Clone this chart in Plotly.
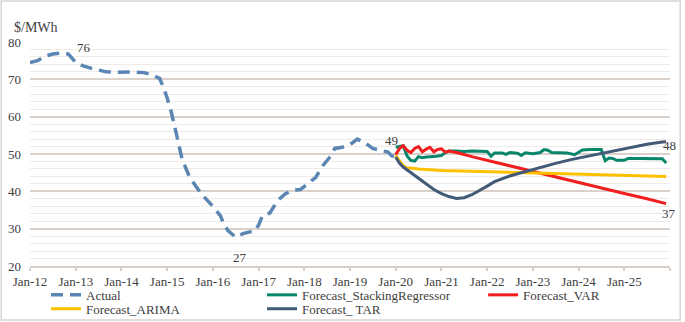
import plotly.graph_objects as go

# ---------------- data ----------------
actual_dates = ["2012-01", "2012-03", "2012-05", "2012-07", "2012-09", "2012-11",
                "2013-01", "2013-03", "2013-05", "2013-07", "2013-09", "2013-11",
                "2014-01", "2014-04", "2014-07", "2014-09", "2014-11", "2014-12",
                "2015-01", "2015-02", "2015-03", "2015-04", "2015-05", "2015-07",
                "2015-10", "2016-01", "2016-03", "2016-04", "2016-05", "2016-07",
                "2016-09", "2016-11", "2016-12", "2017-01", "2017-02", "2017-04",
                "2017-06", "2017-08", "2017-10", "2017-12", "2018-02", "2018-04",
                "2018-06", "2018-08", "2018-09", "2018-11", "2019-01", "2019-03",
                "2019-05", "2019-07", "2019-09", "2019-11", "2019-12", "2020-01"]
actual_vals = [74.5, 75.0, 76.2, 76.8, 77.0, 76.8,
               74.5, 73.6, 73.0, 72.4, 72.0, 71.9,
               72.0, 72.0, 71.8, 71.2, 70.3, 68.0,
               65.0, 61.5, 57.5, 53.0, 48.5, 43.7,
               39.3, 36.0, 33.5, 31.0, 29.5, 27.7,
               28.7, 29.2, 29.3, 31.0, 33.5, 34.2,
               37.5, 39.3, 40.3, 40.5, 42.0, 43.7,
               47.0, 49.5, 51.5, 51.8, 52.5, 54.0,
               53.0, 51.5, 51.0, 50.5, 49.5, 49.3]

# forecasts: month offsets from Jan-20 and values
stack_months = [0, 1, 2, 3, 4, 5, 6, 7, 8, 10, 12, 13, 14, 16, 18, 20, 22, 24, 25, 26,
                28, 29, 30, 32, 33, 34, 36, 38, 39, 40, 41, 43, 45, 47, 49, 51, 54, 55,
                56, 57, 58, 60, 61, 64, 67, 70, 71]
stack_vals = [51.8, 52.0, 52.2, 49.5, 48.3, 48.1, 49.3, 49.0, 49.2, 49.3, 49.6, 50.4,
              50.8, 50.8, 50.7, 50.8, 50.7, 50.7, 49.4, 50.3, 50.3, 49.9, 50.4, 50.2,
              49.6, 50.3, 50.1, 50.4, 51.2, 51.0, 50.4, 50.4, 50.3, 49.8, 51.1, 51.2,
              51.2, 48.2, 48.9, 48.8, 48.3, 48.3, 48.8, 48.8, 48.8, 48.7, 47.6]

var_months = [0, 1, 2, 3, 4, 5, 6, 7, 8, 9, 10, 11, 12, 13, 14, 16, 20, 24, 30, 36,
              42, 48, 54, 60, 66, 71]
var_vals = [49.8, 51.5, 52.2, 51.0, 50.4, 51.5, 52.0, 50.6, 51.3, 51.8, 50.6, 51.2,
            51.4, 50.5, 50.8, 50.4, 49.3, 48.3, 46.8, 45.3, 43.8, 42.2, 40.8, 39.4,
            38.0, 36.7]

arima_months = [0, 1, 2, 3, 6, 12, 24, 36, 48, 60, 71]
arima_vals = [49.6, 48.0, 46.8, 46.3, 46.0, 45.6, 45.3, 45.0, 44.7, 44.4, 44.0]

tar_months = [0, 1, 2, 4, 6, 8, 10, 12, 14, 16, 18, 20, 22, 24, 26, 28, 30, 32, 34,
              38, 42, 46, 50, 54, 58, 62, 66, 70, 71]
tar_vals = [49.2, 47.5, 46.5, 45.0, 43.4, 41.8, 40.5, 39.4, 38.6, 38.1, 38.3, 39.1,
            40.2, 41.4, 42.6, 43.4, 44.1, 44.7, 45.3, 46.5, 47.5, 48.5, 49.3, 50.1,
            50.9, 51.8, 52.6, 53.2, 53.3]

tick_vals = ["2012-01-01", "2013-01-01", "2014-01-01", "2015-01-01", "2016-01-01",
             "2017-01-01", "2018-01-01", "2019-01-01", "2020-01-01", "2021-01-01",
             "2022-01-01", "2023-01-01", "2024-01-01", "2025-01-01"]
tick_text = ["Jan-12", "Jan-13", "Jan-14", "Jan-15", "Jan-16", "Jan-17", "Jan-18",
             "Jan-19", "Jan-20", "Jan-21", "Jan-22", "Jan-23", "Jan-24", "Jan-25"]


def month_dates(months):
    return [f"{2020 + m // 12}-{m % 12 + 1:02d}-01" for m in months]


FONT = "Liberation Serif"
TXT = "#404040"

fig = go.Figure()
fig.add_trace(go.Scatter(x=actual_dates, y=actual_vals, mode="lines", name="Actual",
                         line=dict(color="#5b86b3", width=3.5, dash="12px,7px"),
                         legend="legend"))
fig.add_trace(go.Scatter(x=month_dates(stack_months), y=stack_vals, mode="lines",
                         name="Forecast_StackingRegressor",
                         line=dict(color="#07866b", width=3), legend="legend"))
fig.add_trace(go.Scatter(x=month_dates(var_months), y=var_vals, mode="lines",
                         name="Forecast_VAR",
                         line=dict(color="#f01e1e", width=3), legend="legend3"))
fig.add_trace(go.Scatter(x=month_dates(arima_months), y=arima_vals, mode="lines",
                         name="Forecast_ARIMA",
                         line=dict(color="#ffc000", width=3), legend="legend2"))
fig.add_trace(go.Scatter(x=month_dates(tar_months), y=tar_vals, mode="lines",
                         name="Forecast_ TAR",
                         line=dict(color="#425a78", width=3), legend="legend2"))

# value labels (data coords where inside the axes, paper coords otherwise)
fig.add_annotation(x="2016-08-01", y=22.4, text="27", showarrow=False,
                   font=dict(family=FONT, size=13, color=TXT))
fig.add_annotation(x="2019-12-01", y=53.6, text="49", showarrow=False,
                   font=dict(family=FONT, size=13, color=TXT))
for px, py, lt in [(0.0703, 1.018, "76"), (1.0125, 0.537, "48"), (1.0125, 0.193, "37")]:
    fig.add_annotation(x=px, y=py, xref="paper", yref="paper", text=lt,
                       showarrow=False, font=dict(family=FONT, size=13, color=TXT))

fig.add_annotation(x=-0.028, y=1.064, xref="paper", yref="paper", text="$/MWh",
                   showarrow=False, xanchor="left", yanchor="middle",
                   font=dict(family=FONT, size=14, color=TXT))

# outer frame
fig.add_shape(type="rect", xref="paper", yref="paper", x0=-0.045, x1=1.016,
              y0=-0.241, y1=1.183, line=dict(color="#d9d4cf", width=1.5))

leg_common = dict(orientation="h", xanchor="left", yanchor="top", entrywidth=171,
                  entrywidthmode="pixels", font=dict(family=FONT, size=13, color=TXT),
                  bgcolor="rgba(0,0,0,0)", tracegroupgap=0, itemwidth=30)

fig.update_layout(
    width=685, height=322,
    margin=dict(l=30, r=15, t=42, b=56, autoexpand=False),
    paper_bgcolor="white", plot_bgcolor="white",
    font=dict(family=FONT, size=13, color=TXT),
    showlegend=True,
    legend=dict(x=0.025, y=-0.062, **leg_common),
    legend3=dict(x=0.708, y=-0.062, **leg_common),
    legend2=dict(x=0.025, y=-0.124, **leg_common),
    xaxis=dict(type="date", range=["2012-01-01", "2026-01-01"],
               tickvals=tick_vals, ticktext=tick_text,
               showgrid=False, showline=True, linecolor="#d6cec7", linewidth=1.5,
               ticks="outside", ticklen=3, tickcolor="#d6cec7", tickwidth=1.5,
               tickfont=dict(family=FONT, size=13, color=TXT),
               minor=dict(tickvals=["2026-01-01"], ticks="outside", ticklen=3,
                          tickcolor="#d6cec7", showgrid=False),
               zeroline=False),
    yaxis=dict(range=[20, 80], dtick=10, tick0=20, showgrid=True,
               gridcolor="#d9d1ca", gridwidth=1.5, zeroline=False,
               tickfont=dict(family=FONT, size=13, color=TXT),
               ticklabelstandoff=8,
               minor=dict(dtick=2, tick0=20, showgrid=True, gridcolor="#eeeae7",
                          gridwidth=1)),
)

fig.write_html("out.html", post_script="document.body.style.margin='0';",
               config={"displayModeBar": False})
